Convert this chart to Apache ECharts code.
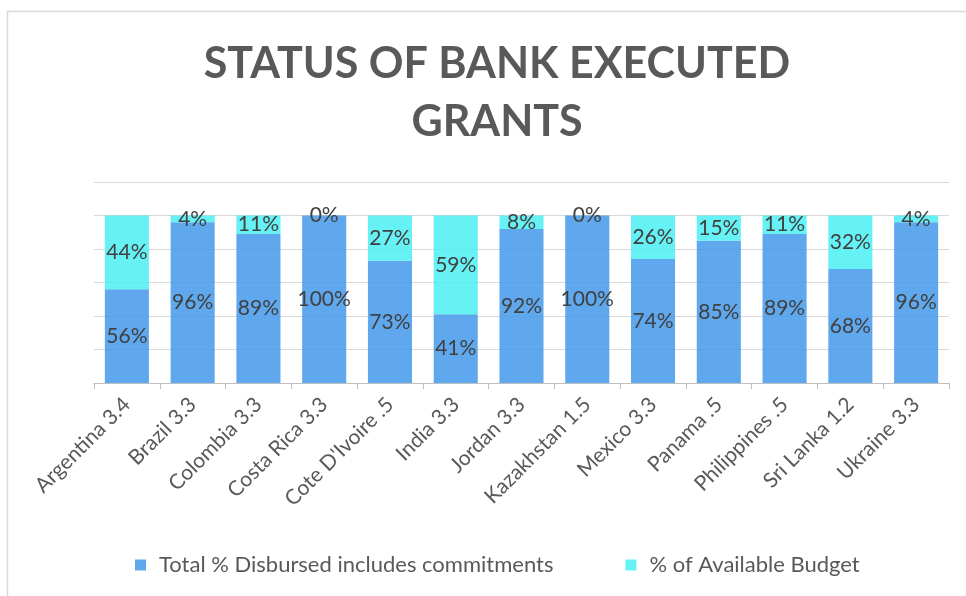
<!DOCTYPE html>
<html>
<head>
<meta charset="utf-8">
<script src="https://cdn.jsdelivr.net/npm/echarts@6/dist/echarts.min.js"></script>
<style>
html,body{margin:0;padding:0;background:#fff;}
#chart{width:966px;height:596px;}
</style>
</head>
<body>
<div id="chart"></div>
<script>
const categories = ["Argentina 3.4","Brazil 3.3","Colombia 3.3","Costa Rica 3.3","Cote D'Ivoire .5","India 3.3","Jordan 3.3","Kazakhstan 1.5","Mexico 3.3","Panama .5","Philippines .5","Sri Lanka 1.2","Ukraine 3.3"];
const disbursed = [56,96,89,100,73,41,92,100,74,85,89,68,96];
const available = [44,4,11,0,27,59,8,0,26,15,11,32,4];
const seriesNames = ["Total % Disbursed includes commitments","% of Available Budget"];
const titleText = "STATUS OF BANK EXECUTED\nGRANTS";

const FONT = "Lato";
const chart = echarts.init(document.getElementById('chart'));
const labelCfg = {
  show: true, position: 'inside', formatter: p => p.value + '%',
  fontSize: 21, color: '#404040', fontFamily: FONT
};
chart.setOption({
  animation: false,
  backgroundColor: '#fff',
  graphic: [{
    type: 'rect', shape: {x: 7.5, y: 11.5, width: 1000, height: 1000},
    style: {fill: 'none', stroke: '#D9D9D9', lineWidth: 1.5}, silent: true
  }],
  title: {
    text: titleText, left: 492, top: 30, textAlign: 'center',
    textStyle: {fontSize: 43, fontWeight: 'bold', color: '#595959', lineHeight: 58, fontFamily: FONT, align: 'center'}
  },
  legend: {
    bottom: 15, left: 130, itemWidth: 11, itemHeight: 11, itemGap: 72, icon: 'rect',
    textStyle: {fontSize: 22, color: '#595959', fontFamily: FONT, padding: [0, 0, 0, 8]}
  },
  grid: {left: 94, right: 17, top: 182, bottom: 213, containLabel: false},
  xAxis: {
    type: 'category', data: categories,
    axisLine: {lineStyle: {color: '#BFBFBF', width: 1}},
    axisTick: {show: true, length: 6, lineStyle: {color: '#BFBFBF'}},
    axisLabel: {rotate: 45, fontSize: 21, color: '#595959', fontFamily: FONT, margin: 18, interval: 0}
  },
  yAxis: {
    type: 'value', min: 0, max: 120, interval: 20,
    axisLabel: {show: false}, axisLine: {show: false}, axisTick: {show: false},
    splitLine: {lineStyle: {color: '#D9D9D9', width: 1}}
  },
  series: [
    {name: seriesNames[0], type: 'bar', stack: 'a', data: disbursed, barCategoryGap: '33%',
     itemStyle: {color: 'rgba(67,153,235,0.85)'}, label: labelCfg, z: 3},
    {name: seriesNames[1], type: 'bar', stack: 'a', data: available, barCategoryGap: '33%',
     itemStyle: {color: 'rgba(75,238,242,0.85)'}, label: labelCfg, z: 3}
  ]
});
</script>
</body>
</html>
